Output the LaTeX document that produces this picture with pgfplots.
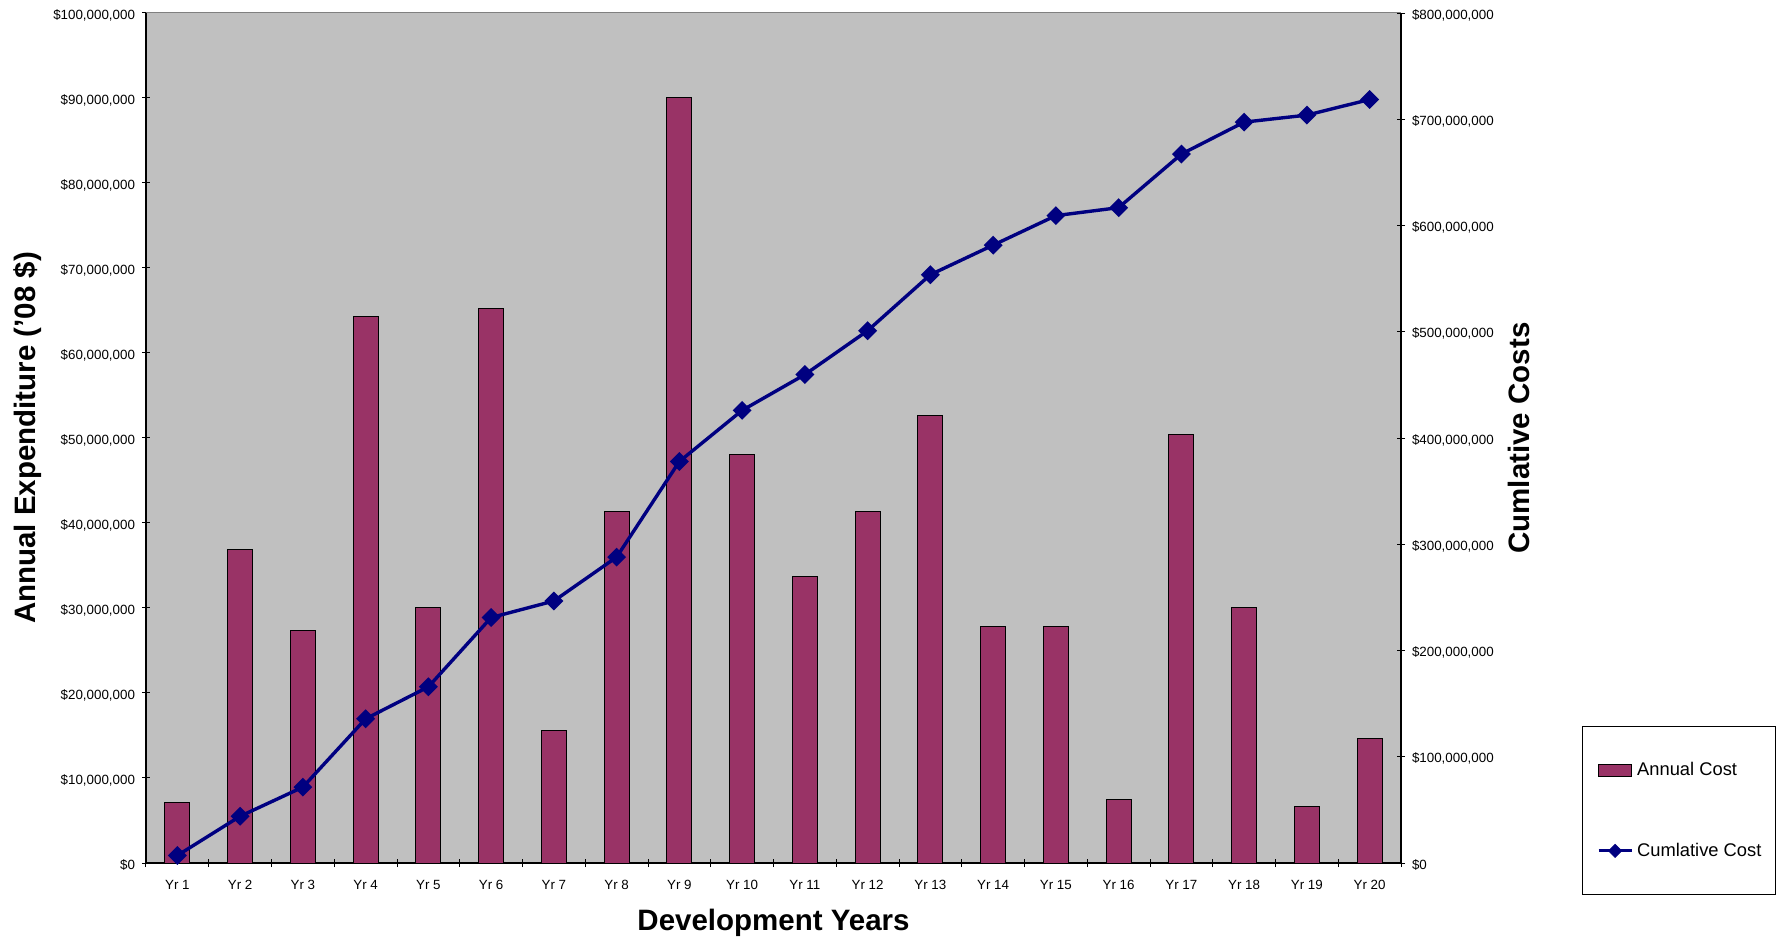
\documentclass[border=0pt]{standalone}
\usepackage{fontspec}
\setmainfont{Liberation Sans}
\usepackage{pgfplots}
\pgfplotsset{compat=1.18}
\definecolor{barcol}{HTML}{993366}
\definecolor{bgcol}{HTML}{C0C0C0}
\definecolor{linecol}{HTML}{000080}
\begin{document}
\begin{tikzpicture}
\useasboundingbox (-73bp,-38bp) rectangle (817bp,431.5bp);
\begin{axis}[
  at={(0,0)}, anchor=south west,
  scale only axis, width=627.5bp, height=425bp,
  xmin=0.5, xmax=20.5, ymin=0, ymax=100000000,
  axis background/.style={fill=bgcol},
  axis x line*=bottom, axis y line*=left,
  axis line style={black, line width=0.6bp},
  xtick={1,...,20},
  xticklabels={Yr 1,Yr 2,Yr 3,Yr 4,Yr 5,Yr 6,Yr 7,Yr 8,Yr 9,Yr 10,Yr 11,Yr 12,Yr 13,Yr 14,Yr 15,Yr 16,Yr 17,Yr 18,Yr 19,Yr 20},
  minor xtick={0.5,1.5,...,20.5},
  major x tick style={draw=none},
  minor x tick style={black, line width=0.5bp},
  minor tick length=4bp,
  major tick length=4bp,
  tick align=center,
  y tick style={black, line width=0.5bp},
  ytick={0,10000000,20000000,30000000,40000000,50000000,60000000,70000000,80000000,90000000,100000000},
  yticklabels={\$0,{\$10,000,000},{\$20,000,000},{\$30,000,000},{\$40,000,000},{\$50,000,000},{\$60,000,000},{\$70,000,000},{\$80,000,000},{\$90,000,000},{\$100,000,000}},
  tick label style={font=\fontsize{6.7}{8}\selectfont},
  yticklabel style={yshift=-1bp, inner ysep=0.5bp},
  xticklabel style={yshift=-3bp},
  ylabel={Annual Expenditure ('08 \$)},
  ylabel style={at={(axis description cs:-0.0946,0.5)}, anchor=center, font=\bfseries\fontsize{14.8}{17}\selectfont},
  xlabel={Development Years},
  xlabel style={at={(axis description cs:0.5,-0.070)}, anchor=center, font=\bfseries\fontsize{14.8}{17}\selectfont},
  legend style={at={(1.1442,0.1612)}, anchor=north west, draw=black, fill=white, line width=0.5bp,
    font=\fontsize{9.2}{11}\selectfont, inner xsep=5bp, inner ysep=15.7bp, row sep=28.3bp,
    nodes={inner sep=2bp}},
  legend cell align=left,
]
\addplot[fill=barcol, draw=black, line width=0.5bp, ybar, bar width=0.4,
  legend image code/.code={\path (0bp,0bp); \draw[fill=barcol,draw=black,line width=0.5bp] (2.8bp,-3bp) rectangle (19.3bp,3bp);}]
  coordinates {
  (1,7.1e6) (2,36.9e6) (3,27.4e6) (4,64.3e6) (5,30.1e6)
  (6,65.2e6) (7,15.6e6) (8,41.3e6) (9,90.0e6) (10,48.1e6)
  (11,33.7e6) (12,41.3e6) (13,52.7e6) (14,27.8e6) (15,27.8e6)
  (16,7.5e6) (17,50.4e6) (18,30.1e6) (19,6.6e6) (20,14.7e6)};
\addlegendentry{Annual Cost}
\addlegendimage{legend image code/.code={\path (0bp,0bp); \draw[linecol,line width=1.6bp] (2.8bp,0bp) -- (19.3bp,0bp); \fill[linecol] (11.05bp,0bp) +(0bp,3.2bp) -- +(3.2bp,0bp) -- +(0bp,-3.2bp) -- +(-3.2bp,0bp) -- cycle;}}
\addlegendentry{Cumlative Cost}
\draw[gray, line width=0.5bp] (rel axis cs:0,1) -- (rel axis cs:1,1);
\end{axis}
\begin{axis}[
  at={(0,0)}, anchor=south west,
  scale only axis, width=627.5bp, height=425bp,
  xmin=0.5, xmax=20.5, ymin=0, ymax=800000000,
  hide x axis, axis y line*=right,
  axis line style={black, line width=0.6bp},
  major tick length=4bp, tick align=center,
  y tick style={black, line width=0.5bp},
  ytick={0,100000000,200000000,300000000,400000000,500000000,600000000,700000000,800000000},
  yticklabels={\$0,{\$100,000,000},{\$200,000,000},{\$300,000,000},{\$400,000,000},{\$500,000,000},{\$600,000,000},{\$700,000,000},{\$800,000,000}},
  tick label style={font=\fontsize{6.7}{8}\selectfont},
  yticklabel style={yshift=-1bp, inner ysep=0.5bp},
  ylabel={Cumlative Costs},
  ylabel style={at={(axis description cs:1.094,0.5)}, anchor=center, font=\bfseries\fontsize{14.8}{17}\selectfont},
]
\addplot[linecol, line width=1.7bp, mark=square*, mark size=2.5bp, mark options={rotate=45, solid}]
  coordinates {
  (1,7.1e6) (2,44.0e6) (3,71.4e6) (4,135.7e6) (5,165.8e6)
  (6,231.0e6) (7,246.6e6) (8,287.9e6) (9,377.9e6) (10,426.0e6)
  (11,459.7e6) (12,501.0e6) (13,553.7e6) (14,581.5e6) (15,609.3e6)
  (16,616.8e6) (17,667.2e6) (18,697.3e6) (19,703.9e6) (20,718.6e6)};
\end{axis}
\end{tikzpicture}
\end{document}
